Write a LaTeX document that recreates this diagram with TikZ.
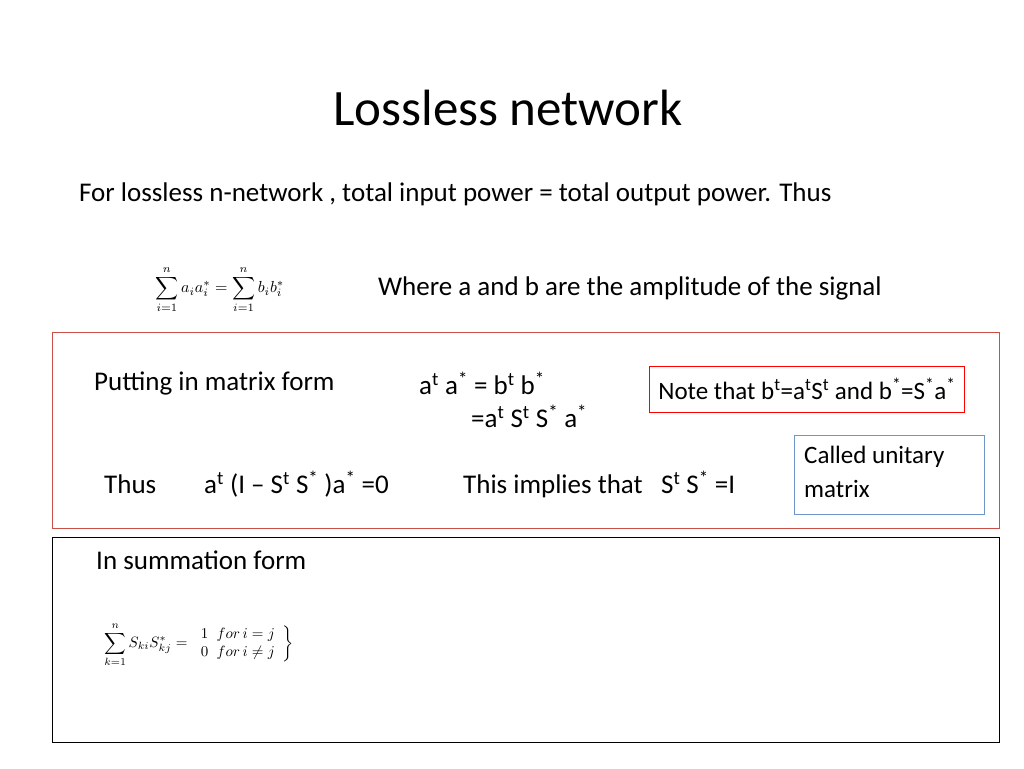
\documentclass[tikz,border=0pt]{standalone}
\usepackage{fontspec}
\setmainfont{Carlito}
\begin{document}
\begin{tikzpicture}[x=1pt,y=-1pt,
  txt/.style={anchor=west,inner sep=0pt,font=\fontsize{27}{32}\selectfont},
  frame/.style={draw,line width=0.8pt}]
\useasboundingbox (0,0) rectangle (1024,768);
\node[inner sep=0pt,font=\fontsize{51}{58}\selectfont] (title) at (508,108) {Lossless network};
\node[txt] (intro) at (79,194) {For lossless n-network , total input power = total output power. Thus};
\node[inner sep=0pt,anchor=west,scale=1.6,transform shape] (eq1) at (155,290) {$\displaystyle\sum_{i=1}^{n} a_i a_i^{*} = \sum_{i=1}^{n} b_i b_i^{*}$};
\node[txt] (where) at (378,288) {Where a and b are the amplitude of the signal};
\draw[frame,draw={rgb,255:red,200;green,80;blue,70}] (52,332) rectangle (999,528);
\node[txt] (put) at (94,383) {Putting in matrix form};
\node[txt] (m1) at (419,383) {a\textsuperscript{t} a\textsuperscript{*} = b\textsuperscript{t} b\textsuperscript{*}};
\node[txt] (m2) at (471,416) {=a\textsuperscript{t} S\textsuperscript{t} S\textsuperscript{*} a\textsuperscript{*}};
\node[txt,draw=red,line width=0.8pt,minimum height=46pt,inner xsep=9pt] (note) at (649,389) {\fontsize{25}{30}\selectfont Note that b\textsuperscript{t}=a\textsuperscript{t}S\textsuperscript{t} and b\textsuperscript{*}=S\textsuperscript{*}a\textsuperscript{*}};
\node[draw={rgb,255:red,110;green,150;blue,200},line width=0.8pt,minimum width=190pt,minimum height=79pt,anchor=north west] (unit) at (794,435) {};
\node[txt,align=left,anchor=north west,font=\fontsize{25}{34}\selectfont] (ulbl) at (804,446) {Called unitary\\matrix};
\node[txt] (thus) at (104,484) {Thus};
\node[txt] (eq2) at (204,484) {a\textsuperscript{t} (I -- S\textsuperscript{t} S\textsuperscript{*} )a\textsuperscript{*} =0};
\node[txt] (impl) at (463,484) {This implies that~~ S\textsuperscript{t} S\textsuperscript{*} =I};
\draw[frame] (52,537) rectangle (999,742);
\node[txt] (sum) at (96,560) {In summation form};
\node[inner sep=0pt,anchor=west,scale=1.5,transform shape] (eq3) at (104,645) {$\displaystyle\sum_{k=1}^{n} S_{ki}S_{kj}^{*} = \left.\vcenter{\hbox{$\begin{array}{l}1\;\; for\, i=j\\ 0\;\; for\, i\neq j\end{array}$}}\right\}$};
\end{tikzpicture}
\end{document}
